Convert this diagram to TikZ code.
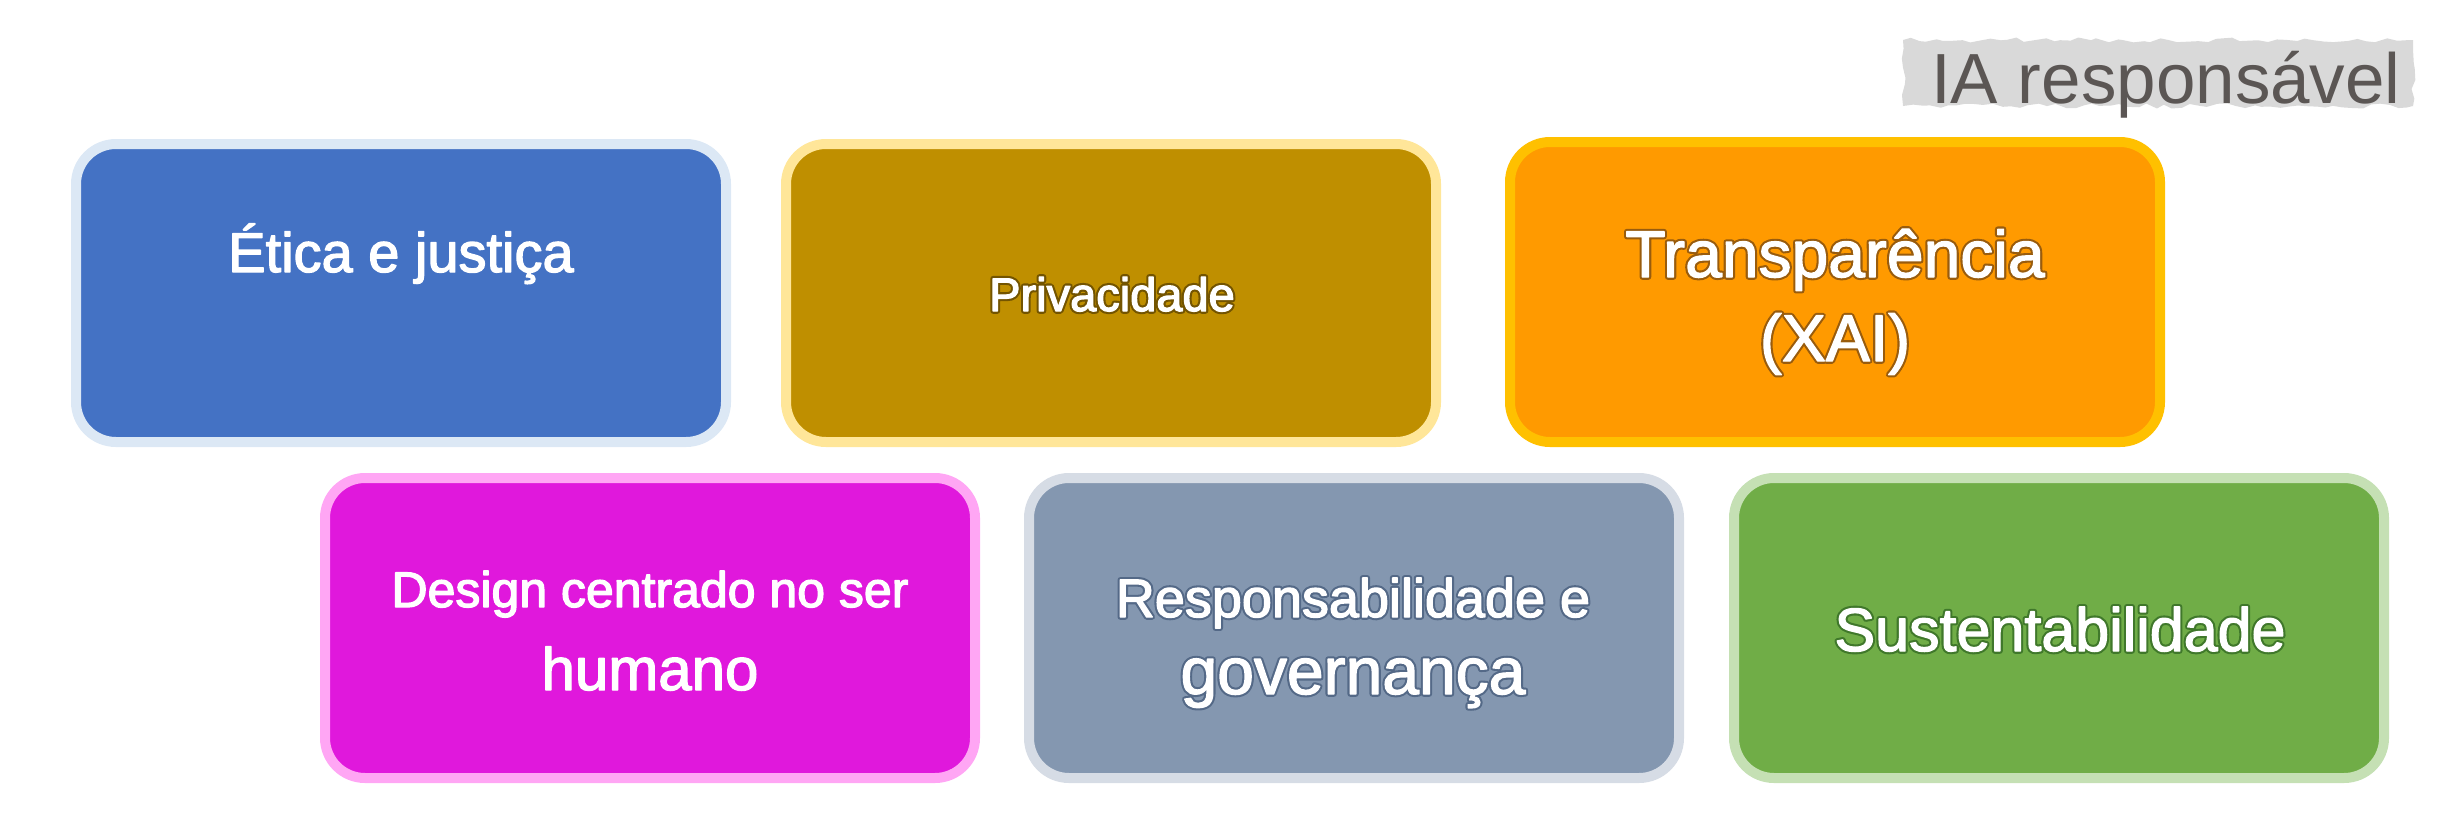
\documentclass[tikz,border=0pt]{standalone}
\usepackage{fontspec}
\setmainfont{Liberation Sans}
\usetikzlibrary{decorations.pathmorphing}
\definecolor{bluefill}{HTML}{4472C4}
\definecolor{blueline}{HTML}{DCE8F5}
\definecolor{goldfill}{HTML}{BF8F00}
\definecolor{goldline}{HTML}{FFE699}
\definecolor{orangefill}{HTML}{FF9A00}
\definecolor{orangeline}{HTML}{FFC000}
\definecolor{magfill}{HTML}{E018DC}
\definecolor{magline}{HTML}{FFA6F4}
\definecolor{grayfill}{HTML}{8497B0}
\definecolor{grayline}{HTML}{D6DCE5}
\definecolor{greenfill}{HTML}{70AD47}
\definecolor{greenline}{HTML}{C5E0B4}
\definecolor{titlebg}{HTML}{D9D9D9}
\definecolor{titletext}{HTML}{5B5654}
\newcommand{\fsz}[1]{\fontsize{#1}{#1}\selectfont}
\newcommand{\heavy}[1]{\special{pdf:literal 2 Tr 1.3 w 1 J 1 j 1 1 1 RG}#1\special{pdf:literal 0 Tr}}
\newcommand{\halo}[2]{\makebox[0pt][l]{\special{pdf:literal 1 Tr 5.5 w 1 J 1 j #1 RG}#2\special{pdf:literal 0 Tr}}\heavy{#2}}
\tikzset{
  card/.style 2 args={draw=#2, fill=#1, line width=10pt, rounded corners=40pt,
    minimum width=650pt, minimum height=300pt, inner sep=0pt},
  lbl/.style={anchor=base, inner sep=0pt, text=white},
}
\begin{document}
\begin{tikzpicture}[x=1pt,y=-1pt]
\useasboundingbox (0,0) rectangle (2459,812);
\pgfmathsetseed{7}
% title
\path[fill=titlebg, decorate, decoration={random steps, segment length=9pt, amplitude=2.5pt}]
  (1903,40) rectangle (2413,106);
\node[anchor=base, inner sep=0pt, text=titletext, font=\fsz{71}] (title) at (2166,103) {IA responsável};
% top row
\node[card={bluefill}{blueline}, minimum height=298pt] (c1) at (401,293) {};
\node[lbl, font=\fsz{56}] (t1) at (401,272) {\heavy{Ética e justiça}};
\node[card={goldfill}{goldline}, minimum height=298pt] (c2) at (1111,293) {};
\node[lbl, font=\fsz{47}] (t2) at (1112,311) {\halo{0.45 0.33 0.0}{Privacidade}};
\node[card={orangefill}{orangeline}, minimum height=300pt] (c3) at (1835,292) {};
\node[lbl, font=\fsz{66}] (t3a) at (1835,277) {\halo{0.6 0.36 0.05}{Transparência}};
\node[lbl, font=\fsz{66}] (t3b) at (1835,361) {\halo{0.6 0.36 0.05}{(XAI)}};
% bottom row
\node[card={magfill}{magline}] (c4) at (650,628) {};
\node[lbl, font=\fsz{50}] (t4a) at (650,607) {\heavy{Design centrado no ser}};
\node[lbl, font=\fsz{60}] (t4b) at (650,690) {\heavy{humano}};
\node[card={grayfill}{grayline}] (c5) at (1354,628) {};
\node[lbl, font=\fsz{54}] (t5a) at (1353,617) {\halo{0.33 0.41 0.53}{Responsabilidade e}};
\node[lbl, font=\fsz{66}] (t5b) at (1353,694) {\halo{0.33 0.41 0.53}{governança}};
\node[card={greenfill}{greenline}] (c6) at (2059,628) {};
\node[lbl, font=\fsz{61}] (t6) at (2060,651) {\halo{0.25 0.47 0.17}{Sustentabilidade}};
\end{tikzpicture}
\end{document}
